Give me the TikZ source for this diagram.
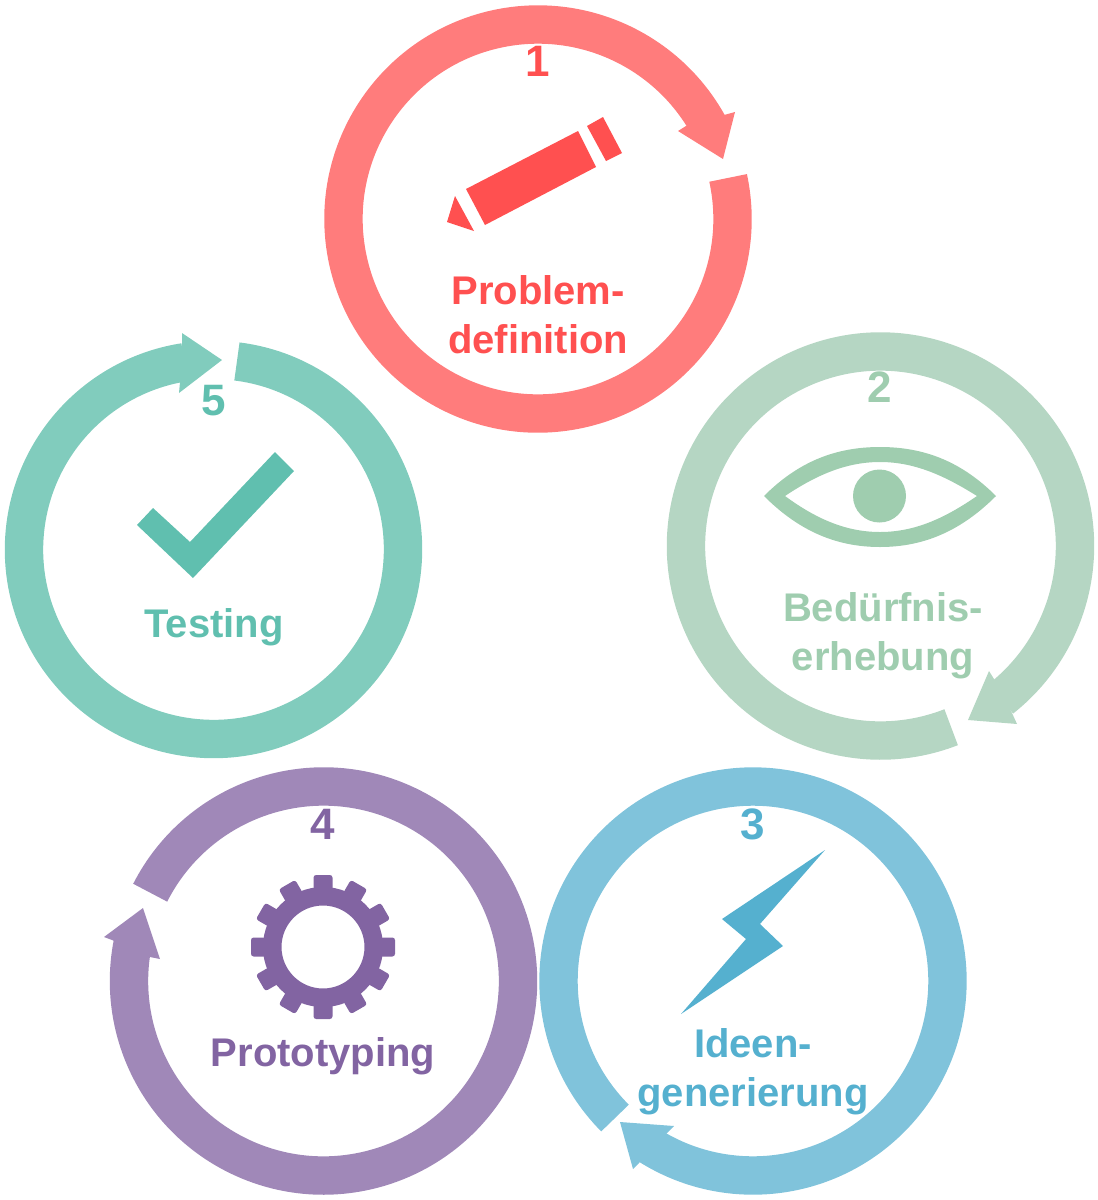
\documentclass[tikz,border=0pt]{standalone}
\usepackage{fontspec}
\setmainfont{Liberation Sans}
\definecolor{redring}{HTML}{FF7C7C}
\definecolor{redicon}{HTML}{FF5050}
\definecolor{greenring}{HTML}{B5D6C3}
\definecolor{greenicon}{HTML}{9FCDAF}
\definecolor{bluering}{HTML}{80C3DB}
\definecolor{blueicon}{HTML}{55B0CF}
\definecolor{purplering}{HTML}{A088B8}
\definecolor{purpleicon}{HTML}{8264A2}
\definecolor{tealring}{HTML}{81CCBD}
\definecolor{tealicon}{HTML}{60BFAF}
\tikzset{
  ringline/.style={line width=28.8pt,line cap=butt},
  label/.style={font=\fontsize{30}{36.75}\selectfont\bfseries,inner sep=0pt,outer sep=0pt,align=center,anchor=base},
  numeral/.style={font=\fontsize{33}{36}\selectfont\bfseries,inner sep=0pt,outer sep=0pt,anchor=base},
}
% colour, centre x, centre y, radius, start, end
\newcommand{\ringarc}[6]{\draw[ringline,#1] (#2,#3) ++(#5:#4) arc[start angle=#5,end angle=#6,radius=#4];}
\begin{document}
\begin{tikzpicture}[x=0.75pt,y=-0.75pt]
\useasboundingbox (0,0) rectangle (1097,1200);
% Red
\ringarc{redring}{538}{219}{194.5}{-12.2}{331}
\fill[redring] (686,126) -- (678,131) -- (723,159) -- (735,112) -- (724,115) -- cycle;
\fill[redicon] (466,189) -- (578,131) -- (596,167) -- (485,225) -- cycle;
\fill[redicon] (587,126) -- (603,117) -- (622,153) -- (606,161) -- cycle;
\fill[redicon] (455,196) -- (447,222) -- (474,231) -- cycle;
\node[numeral,text=redicon] (n1) at (538,76) {1};
\node[label,text=redicon] (t1) at (538,353.5) {Problem-\\definition};
% Green
\ringarc{greenring}{880.5}{546}{194.5}{68.7}{411.7}
\fill[greenring] (994,679) -- (989,671) -- (968,720) -- (1017,724) -- (1012,713) -- cycle;
\fill[greenicon,even odd rule]
  (764,496) .. controls (798,462) and (835,447) .. (880,447) .. controls (925,447) and (962,462) .. (996,496)
  .. controls (962,530) and (925,547) .. (880,547) .. controls (835,547) and (798,530) .. (764,496) -- cycle
  (785,496) .. controls (815,476) and (845,462) .. (880,462) .. controls (915,462) and (945,476) .. (977,496)
  .. controls (945,518) and (915,532) .. (880,532) .. controls (845,532) and (815,518) .. (785,496) -- cycle;
\fill[greenicon] (879.5,496) circle[radius=26.5];
\node[numeral,text=greenicon] (n2) at (880,402) {2};
\node[label,text=greenicon] (t2) at (883,670.5) {Bedürfnis-\\erhebung};
% Blue
\ringarc{bluering}{753}{981}{194.5}{135.2}{482.1}
\fill[bluering] (668,1132) -- (674,1126) -- (620,1122) -- (633,1169) -- (639,1163) -- cycle;
\fill[blueicon] (825,850) -- (722,919) -- (746,939) -- (681,1014) -- (783,946) -- (760,924) -- cycle;
\node[numeral,text=blueicon] (n3) at (753,839) {3};
\node[label,text=blueicon] (t3) at (753,1106.5) {Ideen-\\generierung};
% Purple
\ringarc{purplering}{323.5}{981}{194.5}{207}{551}
\fill[purplering] (112,940) -- (104,937) -- (143,908) -- (160,959) -- (150,957) -- cycle;
\draw[purpleicon,line width=13.9pt] (323,947) circle[radius=50.75];
\foreach \a in {0,30,...,330}{
  \fill[purpleicon,rounded corners=2pt,rotate around={\a:(323,947)}] (313.5,875) rectangle (332.5,895);
}
\node[numeral,text=purpleicon] (n4) at (323,839) {4};
\node[label,text=purpleicon] (t4) at (323,1066.5) {Prototyping};
% Teal
\ringarc{tealring}{213.5}{549.5}{189.5}{-82.9}{261.2}
\fill[tealring] (182,343) -- (182,333) -- (222,360) -- (179,393) -- (180,382) -- cycle;
\fill[tealicon] (275,452) -- (294,471) -- (193,578) -- (137,525) -- (153,508) -- (190,542) -- cycle;
\node[numeral,text=tealicon] (n5) at (214,415) {5};
\node[label,text=tealicon] (t5) at (214,637.5) {Testing};
\end{tikzpicture}
\end{document}
